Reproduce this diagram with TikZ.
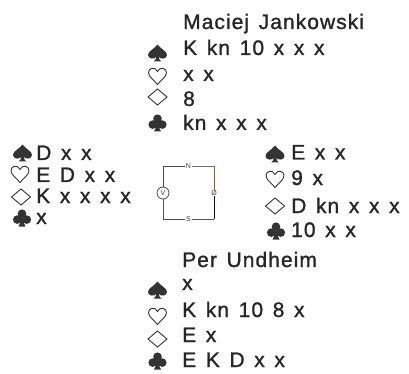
\documentclass[tikz,border=0pt]{standalone}
\usepackage{fontspec}
\setmainfont{Liberation Sans}[LetterSpace=5,WordSpace=1.4,FakeBold=1.2]
\newfontfamily\smallfam{Liberation Sans}
\begin{document}
\begin{tikzpicture}[x=1pt,y=-1pt,
  txt/.style={anchor=base west,inner sep=0pt,font=\fontsize{21}{22}\selectfont,text=black!85},
  lbl/.style={inner sep=0.5pt,font=\smallfam\fontsize{7}{8}\selectfont,text=black!75},
  wire/.style={line width=0.8pt},
  spade/.pic={\fill[black!80] (0,-8.5) .. controls (-3,-4) and (-9.5,-2) .. (-9.5,2)
      .. controls (-9.5,6) and (-3,7) .. (-1,3.5) .. controls (-1,6) and (-3,8) .. (-4,8.5)
      -- (4,8.5) .. controls (3,8) and (1,6) .. (1,3.5) .. controls (3,7) and (9.5,6) .. (9.5,2)
      .. controls (9.5,-2) and (3,-4) .. (0,-8.5) -- cycle;},
  heart/.pic={\draw[black!80,line width=0.9pt] (0,8.5) .. controls (-3,4.5) and (-9,1) .. (-9,-3.5)
      .. controls (-9,-8) and (-2.5,-10) .. (0,-4.5) .. controls (2.5,-10) and (9,-8) .. (9,-3.5)
      .. controls (9,1) and (3,4.5) .. (0,8.5) -- cycle;},
  diam/.pic={\draw[black!80,line width=0.9pt,line join=miter] (-9.5,0) -- (0,-8) -- (9.5,0) -- (0,8) -- cycle;},
  club/.pic={\fill[black!80] (0,-4.3) circle (4.3) (-4.8,1.6) circle (4.3) (4.8,1.6) circle (4.3)
      (-1,0) -- (1,0) .. controls (1,4) and (2.5,7) .. (3.5,8.5) -- (-3.5,8.5) .. controls (-2.5,7) and (-1,4) .. (-1,0) -- cycle;}
]
\useasboundingbox (0,0) rectangle (409,374);
% North
\node[txt] (nname) at (183,29) {Maciej Jankowski};
\pic (nS) at (157.5,53) {spade};
\pic (nH) at (157.5,76) {heart};
\pic (nD) at (157.5,97) {diam};
\pic (nC) at (157.5,123) {club};
\node[txt] (nSt) at (183,55) {K kn 10 x x x};
\node[txt] (nHt) at (183,81) {x x};
\node[txt] (nDt) at (183,106) {8};
\node[txt] (nCt) at (183,130) {kn x x x};
% West
\pic (wS) at (22.5,153) {spade};
\pic (wH) at (20,174) {heart};
\pic (wD) at (21,197) {diam};
\pic (wC) at (22,218) {club};
\node[txt] (wSt) at (36,160) {D x x};
\node[txt] (wHt) at (36,182) {E D x x};
\node[txt] (wDt) at (36,203) {K x x x x};
\node[txt] (wCt) at (36,224) {x};
% East
\pic (eS) at (275,154) {spade};
\pic (eH) at (275,179) {heart};
\pic (eD) at (275,206) {diam};
\pic (eC) at (276,231) {club};
\node[txt] (eSt) at (291,159.5) {E x x};
\node[txt] (eHt) at (291,185) {9 x};
\node[txt] (eDt) at (291,213) {D kn x x x};
\node[txt] (eCt) at (291,237) {10 x x};
% South
\node[txt] (sname) at (182,267) {Per Undheim};
\pic (sS) at (157.5,290) {spade};
\pic (sH) at (157.5,316) {heart};
\pic (sD) at (157.5,339) {diam};
\pic (sC) at (157.5,361) {club};
\node[txt] (sSt) at (182,290) {x};
\node[txt] (sHt) at (182,317) {K kn 10 8 x};
\node[txt] (sDt) at (182,342) {E x};
\node[txt] (sCt) at (182,367) {E K D x x};
% compass
\coordinate (tl) at (163,166);
\coordinate (tr) at (214,166);
\coordinate (bl) at (163,219);
\coordinate (br) at (214,219);
\node[lbl] (cN) at (188.5,166) {N};
\node[lbl] (cS) at (188.5,219) {S};
\node[lbl] (cO) at (214,193) {Ø};
\node[circle,draw=black!70,line width=0.8pt,minimum size=12pt,inner sep=0pt,font=\smallfam\fontsize{7}{8}\selectfont,text=black!75] (cV) at (163,193) {V};
\draw[wire,black!70] (cV) -- (tl) -- (cN);
\draw[wire,black!55] (cN) -- (tr);
\draw[wire,brown!70!black] (tr) -- (cO);
\draw[wire,blue!50!black] (cO) -- (br);
\draw[wire,black!65] (br) -- (cS);
\draw[wire,black!70] (cS) -- (bl);
\draw[wire,blue!35!black!70] (bl) -- (cV);
\end{tikzpicture}
\end{document}
